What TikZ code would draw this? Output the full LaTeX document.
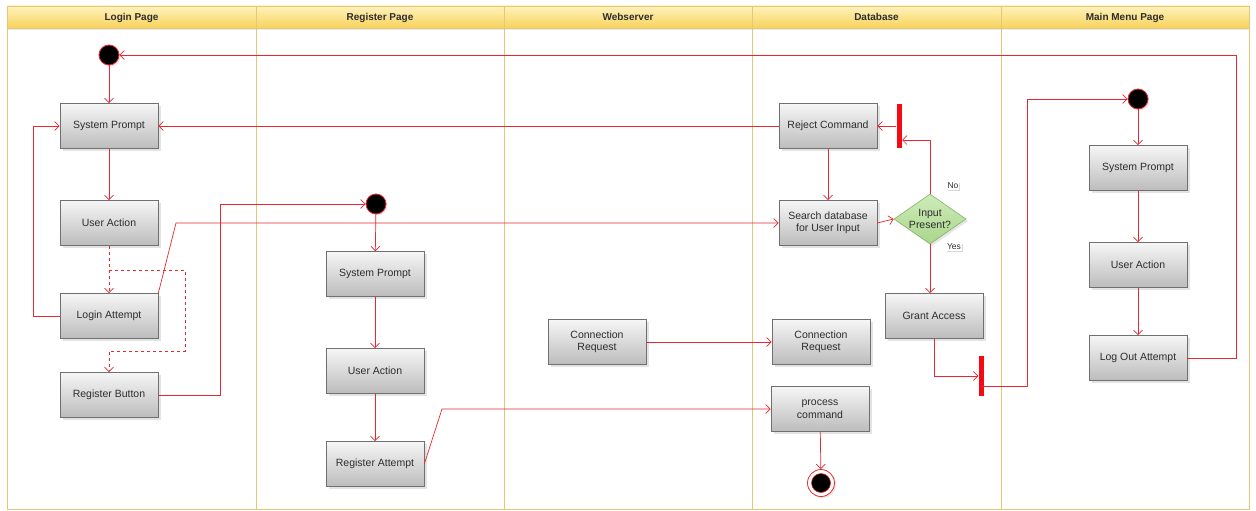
\documentclass[tikz,border=0pt]{standalone}
\usepackage{fontspec}
\setmainfont{Liberation Sans}
\usetikzlibrary{arrows.meta,shapes.geometric,shadows,calc}
\definecolor{flow}{RGB}{230,40,50}
\definecolor{barred}{RGB}{245,10,20}
\definecolor{laneline}{RGB}{228,200,120}
\definecolor{headtop}{RGB}{254,242,190}
\definecolor{headbot}{RGB}{248,210,90}
\definecolor{boxtop}{RGB}{246,246,246}
\definecolor{boxbot}{RGB}{188,188,188}
\definecolor{boxline}{RGB}{112,112,112}
\definecolor{txt}{RGB}{45,45,45}
\definecolor{dectop}{RGB}{206,236,186}
\definecolor{decbot}{RGB}{170,214,140}
\definecolor{decline}{RGB}{130,180,100}
\tikzset{
  act/.style={draw=boxline, line width=0.6pt, top color=boxtop, bottom color=boxbot,
    minimum width=98pt, minimum height=45pt, inner sep=2pt, align=center,
    font=\fontsize{10.5}{12.5}\selectfont, text=txt,
    drop shadow={opacity=0.22, shadow xshift=2.5pt, shadow yshift=-2.5pt}},
  startnode/.style={circle, fill=black, draw=flow, line width=0.8pt, minimum size=20pt, inner sep=0pt,
    drop shadow={opacity=0.2, shadow xshift=1.5pt, shadow yshift=-1.5pt}},
  endnode/.style={circle, fill=white, draw=flow, line width=0.8pt, minimum size=27pt, inner sep=0pt,
    drop shadow={opacity=0.2, shadow xshift=1.5pt, shadow yshift=-1.5pt}},
  syncbar/.style={rectangle, fill=barred, draw=none, minimum width=5pt, inner sep=0pt},
  decision/.style={diamond, draw=decline, line width=0.6pt, top color=dectop, bottom color=decbot,
    minimum width=72pt, minimum height=50pt, inner sep=-8pt, align=center,
    font=\fontsize{10.5}{12}\selectfont, text=txt,
    drop shadow={opacity=0.2, shadow xshift=2pt, shadow yshift=-2pt}},
  guard/.style={fill=white, inner sep=1pt, font=\fontsize{8.5}{10}\selectfont, text=txt,
    drop shadow={opacity=0.3, shadow xshift=1pt, shadow yshift=-1pt}},
  flowline/.style={draw=flow, line width=0.7pt, -{Straight Barb[length=4.5pt,width=9pt]}},
  header/.style={draw=laneline, line width=0.6pt, top color=headtop, bottom color=headbot,
    minimum height=22pt, inner sep=0pt, font=\bfseries\fontsize{10}{12}\selectfont, text=txt},
  lane/.style={draw=laneline, line width=0.7pt, fill=white}
}
\begin{document}
\begin{tikzpicture}[x=1pt,y=-1pt]
\useasboundingbox (0,0) rectangle (1256,511);

% swimlanes
\foreach \i/\a/\b/\t in {1/7/256/Login Page, 2/256/504/Register Page, 3/504/752/Webserver,
                         4/752/1001/Database, 5/1001/1249/Main Menu Page} {
  \draw[lane] (\a,28) rectangle (\b,509);
  \node[header, minimum width={\b-\a}, text depth=1pt,
        drop shadow={opacity=0.15, shadow xshift=0pt, shadow yshift=-2pt}]
    (hdr\i) at ({(\a+\b)/2},17) {\t};
}

% Login Page
\node[startnode] (s1) at (109,55) {};
\node[act] (lp1) at (109,126) {System Prompt};
\node[act] (lp2) at (109,223) {User Action};
\node[act] (lp3) at (109,316) {Login Attempt};
\node[act] (lp4) at (109,395) {Register Button};

% Register Page
\node[startnode] (rs) at (376,204) {};
\node[act] (rp1) at (375,274) {System Prompt};
\node[act] (rp2) at (375,371) {User Action};
\node[act] (rp3) at (375,464) {Register Attempt};

% Webserver
\node[act] (ws1) at (597,342) {Connection\\Request};

% Database
\node[act] (db1) at (828,126) {Reject Command};
\node[act] (db2) at (828,223) {Search database\\for User Input};
\node[decision] (dec) at (930,219) {Input\\Present?};
\node[act] (db3) at (934,316) {Grant Access};
\node[act] (db4) at (821,342) {Connection\\Request};
\node[act] (db5) at (820,409) {process\\command};
\node[endnode] (fin) at (821,483) {};
\fill[black, draw=flow, line width=0.6pt] (fin.center) circle (9.5);
\node[syncbar, minimum height=44pt] (bar1) at (899,126) {};
\node[syncbar, minimum height=40pt] (bar2) at (981,376) {};
\node[guard] (gno) at (953,186) {No};
\node[guard] (gyes) at (954,247) {Yes};

% Main Menu Page
\node[startnode] (ms) at (1138,99) {};
\node[act] (mp1) at (1138,168) {System Prompt};
\node[act] (mp2) at (1138,265) {User Action};
\node[act] (mp3) at (1138,358) {Log Out Attempt};

% bend points
\coordinate (dsplit) at (109,270);
\coordinate (loginrise) at (176,223);
\coordinate (regrise) at (442,409);
\coordinate (noturn) at (902,140);

% connectors: Login Page
\draw[flowline] (s1) -- (lp1);
\draw[flowline] (lp1) -- (lp2);
\draw[flowline, dashed] (lp2) -- (lp3);
\draw[flowline, dashed] (dsplit) -- ++(76,0) |- ($(lp4.north)+(0,-21)$) -- (lp4.north);
\draw[flowline] (lp3.west) -- ++(-26,0) |- (lp1.west);
\draw[flowline] (lp3.north east) -- (loginrise) -- (db2.west);
\draw[flowline] (lp4.east) -- ++(62,0) |- (rs);

% connectors: Register Page
\draw[flowline] (rs) -- (rp1);
\draw[flowline] (rp1) -- (rp2);
\draw[flowline] (rp2) -- (rp3);
\draw[flowline] (rp3.east) -- (regrise) -- (db5.west);

% connectors: Webserver / Database
\draw[flowline] (ws1) -- (db4);
\draw[flowline] (db1) -- (db2);
\draw[flowline] (db1.west) -- (lp1.east);
\draw[flowline] (db2.east) -- (dec.west);
\draw[flowline] (dec.north) |- (noturn);
\draw[flowline] (bar1.west) -- (db1.east);
\draw[flowline] (dec.south) -- (dec.south |- db3.north);
\draw[flowline] (db3.south) |- (bar2.west);
\draw[flowline] (db5) -- (fin);
\draw[flowline] ($(bar2.center)+(0,10)$) -- ++(46,0) |- (ms);

% connectors: Main Menu Page
\draw[flowline] (ms) -- (mp1);
\draw[flowline] (mp1) -- (mp2);
\draw[flowline] (mp2) -- (mp3);
\draw[flowline] (mp3.east) -- ++(49,0) |- (s1);
\end{tikzpicture}
\end{document}
